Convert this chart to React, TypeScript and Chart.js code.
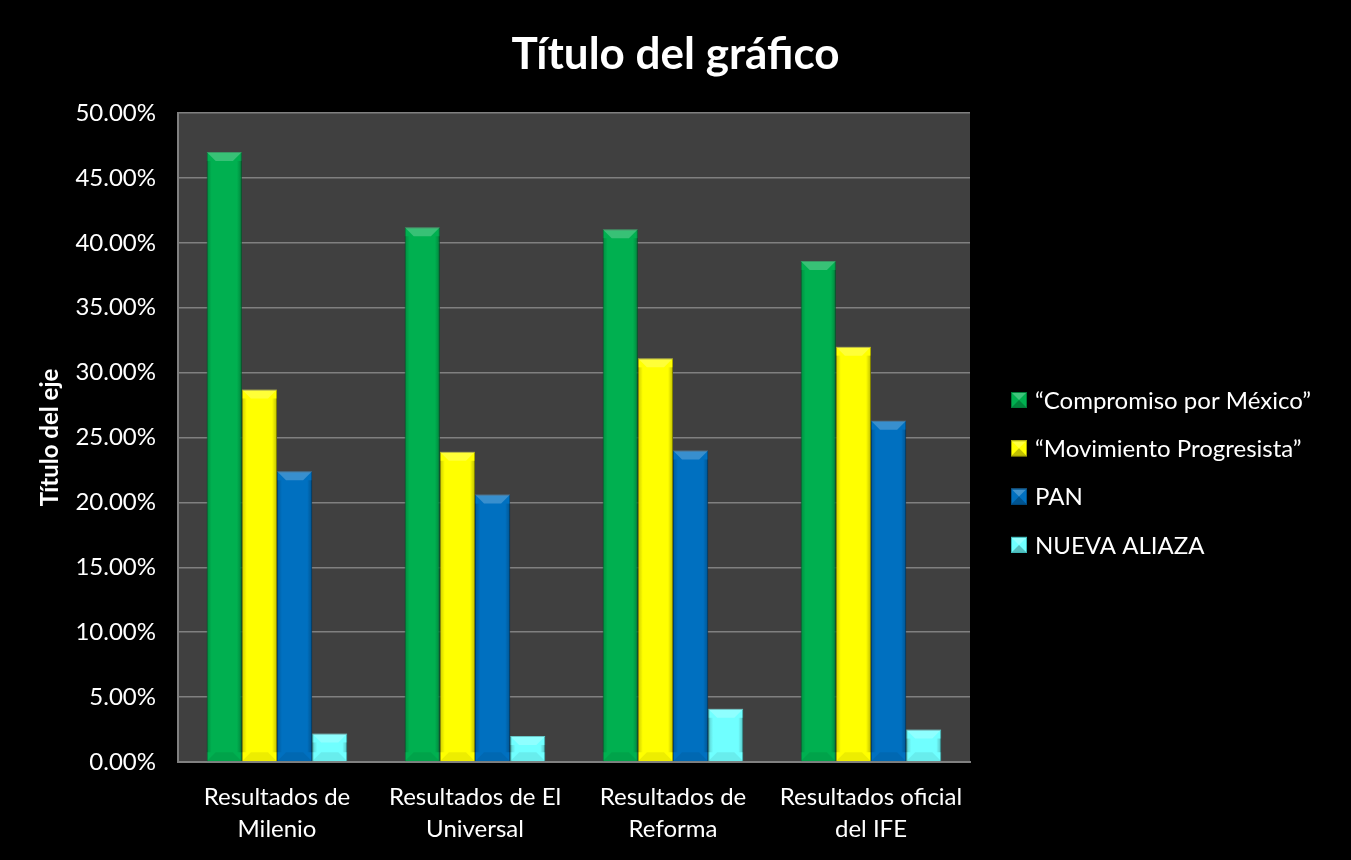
import React, { useEffect, useRef } from "react";
import { Chart, registerables } from "chart.js";

Chart.register(...registerables);

const chartTitle = "T\u00EDtulo del gr\u00E1fico";
const axisTitle = "T\u00EDtulo del eje";
const categories = [
  ["Resultados de", "Milenio"],
  ["Resultados de El", "Universal"],
  ["Resultados de", "Reforma"],
  ["Resultados oficial", "del IFE"],
];
const seriesNames = [
  "\u201CCompromiso por M\u00E9xico\u201D",
  "\u201CMovimiento Progresista\u201D",
  "PAN",
  "NUEVA ALIAZA",
];
const compromiso = [47.0, 41.2, 41.05, 38.6];
const movimiento = [28.7, 23.9, 31.1, 32.0];
const pan = [22.4, 20.6, 24.0, 26.3];
const nuevaAlianza = [2.2, 2.0, 4.1, 2.5];
const seriesColors = ["#00B050", "#FFFF00", "#0070C0", "#70FFFF"];
const seriesBorders = ["#007a38", "#a8a800", "#004f88", "#3fb8b8"];

const FONT = "Lato, 'Open Sans', sans-serif";

const plotBg = {
  id: "plotBg",
  beforeDraw(chart: any) {
    const { ctx, chartArea } = chart;
    ctx.save();
    ctx.fillStyle = "#000000";
    ctx.fillRect(0, 0, chart.width, chart.height);
    ctx.fillStyle = "#404040";
    ctx.fillRect(chartArea.left, chartArea.top, chartArea.right - chartArea.left, chartArea.bottom - chartArea.top);
    ctx.restore();
  },
};

const centeredTitle = {
  id: "centeredTitle",
  afterDraw(chart: any) {
    const { ctx } = chart;
    ctx.save();
    ctx.fillStyle = "#FFFFFF";
    ctx.font = `bold 44px ${FONT}`;
    ctx.textAlign = "center";
    ctx.textBaseline = "middle";
    ctx.fillText(chartTitle, chart.width / 2, 55);
    ctx.restore();
  },
};

const bevel = {
  id: "bevel",
  afterDatasetsDraw(chart: any) {
    const ctx = chart.ctx;
    chart.data.datasets.forEach((_ds: any, i: number) => {
      const meta = chart.getDatasetMeta(i);
      meta.data.forEach((bar: any) => {
        const { x, y, base, width } = bar.getProps(["x", "y", "base", "width"], true);
        const l = x - width / 2;
        const r = x + width / 2;
        const t = Math.min(y, base);
        const b = Math.max(y, base);
        const h = b - t;
        const d = Math.min(9, h / 2, width / 2);
        ctx.save();
        ctx.fillStyle = "rgba(255,255,255,0.22)";
        ctx.beginPath();
        ctx.moveTo(l, t);
        ctx.lineTo(r, t);
        ctx.lineTo(r - d, t + d);
        ctx.lineTo(l + d, t + d);
        ctx.closePath();
        ctx.fill();
        const gl = ctx.createLinearGradient(l, 0, l + 5, 0);
        gl.addColorStop(0, "rgba(0,0,0,0.2)");
        gl.addColorStop(1, "rgba(0,0,0,0)");
        ctx.fillStyle = gl;
        ctx.fillRect(l, t + d, 5, h - 2 * d);
        const gr = ctx.createLinearGradient(r - 5, 0, r, 0);
        gr.addColorStop(0, "rgba(0,0,0,0)");
        gr.addColorStop(1, "rgba(0,0,0,0.25)");
        ctx.fillStyle = gr;
        ctx.fillRect(r - 5, t + d, 5, h - 2 * d);
        ctx.fillStyle = "rgba(0,0,0,0.07)";
        ctx.beginPath();
        ctx.moveTo(l, b);
        ctx.lineTo(r, b);
        ctx.lineTo(r - d, b - d);
        ctx.lineTo(l + d, b - d);
        ctx.closePath();
        ctx.fill();
        ctx.restore();
      });
    });
  },
};

const sideLegend = {
  id: "sideLegend",
  afterDraw(chart: any) {
    const { ctx, chartArea } = chart;
    const x = chartArea.right + 41;
    const y0 = chartArea.top + 287;
    const step = 48.3;
    ctx.save();
    chart.data.datasets.forEach((ds: any, i: number) => {
      const cy = y0 + i * step;
      const s = 16;
      const bx = x;
      const by = cy - s / 2;
      ctx.fillStyle = ds.backgroundColor;
      ctx.fillRect(bx, by, s, s);
      ctx.fillStyle = "rgba(255,255,255,0.25)";
      ctx.beginPath();
      ctx.moveTo(bx, by);
      ctx.lineTo(bx + s, by);
      ctx.lineTo(bx + s / 2, by + s / 2);
      ctx.closePath();
      ctx.fill();
      ctx.fillStyle = "rgba(0,0,0,0.25)";
      ctx.beginPath();
      ctx.moveTo(bx, by + s);
      ctx.lineTo(bx + s, by + s);
      ctx.lineTo(bx + s / 2, by + s / 2);
      ctx.closePath();
      ctx.fill();
      ctx.strokeStyle = ds.borderColor;
      ctx.lineWidth = 1;
      ctx.strokeRect(bx + 0.5, by + 0.5, s - 1, s - 1);
      ctx.fillStyle = "#FFFFFF";
      ctx.font = `24px ${FONT}`;
      ctx.textBaseline = "middle";
      ctx.textAlign = "left";
      ctx.fillText(ds.label, x + 24, cy + 1);
    });
    ctx.restore();
  },
};

export default function App() {
  const ref = useRef<HTMLCanvasElement | null>(null);

  useEffect(() => {
    document.body.style.margin = "0";
    document.body.style.background = "#000";
    const seriesData = [compromiso, movimiento, pan, nuevaAlianza];
    const chart = new Chart(ref.current as HTMLCanvasElement, {
      type: "bar",
      data: {
        labels: categories as any,
        datasets: seriesNames.map((name, i) => ({
          label: name,
          data: seriesData[i],
          backgroundColor: seriesColors[i],
          borderColor: seriesBorders[i],
          borderWidth: 1,
          categoryPercentage: 0.71,
          barPercentage: 1.0,
        })),
      },
      options: {
        animation: false,
        responsive: false,
        maintainAspectRatio: false,
        layout: { padding: { left: 0, right: 381, top: 113, bottom: 0 } },
        plugins: {
          legend: { display: false },
          tooltip: { enabled: false },
          title: { display: false },
        },
        scales: {
          x: {
            grid: { display: false, drawTicks: false },
            border: { display: true, color: "#808080", width: 2 },
            ticks: {
              color: "#FFFFFF",
              font: { family: FONT, size: 24, lineHeight: 1.3 },
              padding: 20,
              maxRotation: 0,
              autoSkip: false,
            },
            afterFit(scale: any) {
              scale.height = 98;
            },
          },
          y: {
            min: 0,
            max: 50,
            ticks: {
              stepSize: 5,
              color: "#FFFFFF",
              font: { family: FONT, size: 24 },
              padding: 22,
              callback: (v: any) => Number(v).toFixed(2) + "%",
            },
            grid: { color: "#808080", lineWidth: 1.5, drawTicks: false },
            border: { display: true, color: "#808080", width: 2 },
            title: {
              display: true,
              text: axisTitle,
              color: "#FFFFFF",
              font: { family: FONT, size: 24, weight: "bold" },
              padding: { top: 36, bottom: 0 },
            },
            afterFit(scale: any) {
              scale.width = 178;
            },
          },
        },
      },
      plugins: [plotBg, bevel, sideLegend, centeredTitle],
    });
    return () => chart.destroy();
  }, []);

  return (
    <div style={{ width: 1351, height: 860, background: "#000" }}>
      <canvas ref={ref} width={1351} height={860} style={{ display: "block" }} />
    </div>
  );
}
